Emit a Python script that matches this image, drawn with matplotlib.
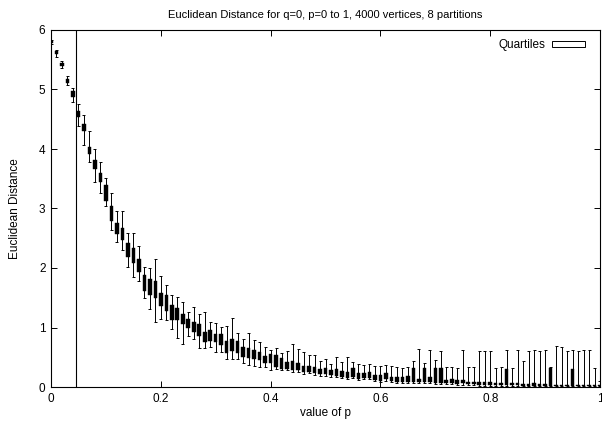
import numpy as np
import matplotlib
matplotlib.use("Agg")
import matplotlib.pyplot as plt
from matplotlib.patches import Patch

plt.rcParams['font.family'] = ['Liberation Sans', 'DejaVu Sans']

# value of p (0 to 1 in steps of 0.01)
p_values = np.linspace(0.0, 1.0, 101)

# Euclidean distance statistics per p: whisker min, first quartile, third quartile, whisker max
d_min = [5.76, 5.55, 5.36, 5.07, 4.79, 4.39, 4.06, 3.78, 3.45, 3.26,
         3.04, 2.64, 2.44, 2.30, 2.01, 1.85, 1.78, 1.50, 1.31, 1.09,
         1.14, 1.12, 0.98, 0.82, 0.72, 0.85, 0.81, 0.66, 0.66, 0.68,
         0.59, 0.59, 0.47, 0.47, 0.47, 0.40, 0.37, 0.36, 0.33, 0.33,
         0.29, 0.30, 0.29, 0.28, 0.26, 0.26, 0.22, 0.23, 0.20, 0.18,
         0.18, 0.17, 0.16, 0.15, 0.13, 0.15, 0.12, 0.13, 0.13, 0.10,
         0.09, 0.10, 0.09, 0.07, 0.07, 0.07, 0.06, 0.06, 0.06, 0.06,
         0.05, 0.05, 0.05, 0.05, 0.04, 0.04, 0.03, 0.03, 0.02, 0.02,
         0.02, 0.02, 0.02, 0.02, 0.01, 0.01, 0.01, 0.01, 0.01, 0.01,
         0.01, 0.01, 0.01, 0.01, 0.01, 0.01, 0.01, 0.01, 0.01, 0.01,
         0.01]
d_q1 = [5.78, 5.59, 5.40, 5.11, 4.87, 4.53, 4.30, 3.92, 3.66, 3.44,
        3.12, 2.79, 2.57, 2.47, 2.18, 2.09, 1.93, 1.62, 1.54, 1.49,
        1.36, 1.28, 1.13, 1.12, 1.06, 0.99, 0.93, 0.85, 0.76, 0.78,
        0.76, 0.70, 0.57, 0.60, 0.57, 0.50, 0.49, 0.47, 0.46, 0.41,
        0.40, 0.33, 0.31, 0.31, 0.29, 0.29, 0.25, 0.25, 0.24, 0.22,
        0.22, 0.20, 0.19, 0.17, 0.15, 0.16, 0.13, 0.15, 0.15, 0.12,
        0.10, 0.13, 0.10, 0.09, 0.09, 0.09, 0.08, 0.08, 0.08, 0.08,
        0.06, 0.06, 0.06, 0.07, 0.05, 0.06, 0.05, 0.05, 0.04, 0.04,
        0.04, 0.03, 0.03, 0.03, 0.03, 0.03, 0.02, 0.02, 0.02, 0.02,
        0.02, 0.02, 0.02, 0.02, 0.02, 0.02, 0.02, 0.02, 0.02, 0.02,
        0.02]
d_q3 = [5.82, 5.64, 5.44, 5.18, 4.97, 4.64, 4.42, 4.04, 3.82, 3.60,
        3.39, 3.04, 2.75, 2.68, 2.42, 2.34, 2.15, 1.88, 1.82, 1.78,
        1.58, 1.54, 1.38, 1.32, 1.23, 1.14, 1.09, 1.06, 0.93, 0.95,
        0.89, 0.89, 0.77, 0.81, 0.77, 0.67, 0.65, 0.63, 0.59, 0.52,
        0.56, 0.53, 0.48, 0.42, 0.44, 0.40, 0.36, 0.35, 0.33, 0.30,
        0.32, 0.29, 0.30, 0.27, 0.26, 0.32, 0.23, 0.23, 0.26, 0.20,
        0.20, 0.24, 0.17, 0.16, 0.17, 0.19, 0.32, 0.13, 0.32, 0.16,
        0.32, 0.32, 0.12, 0.14, 0.11, 0.12, 0.09, 0.09, 0.09, 0.09,
        0.08, 0.07, 0.07, 0.31, 0.06, 0.06, 0.05, 0.05, 0.06, 0.05,
        0.05, 0.32, 0.04, 0.04, 0.04, 0.31, 0.04, 0.04, 0.04, 0.04,
        0.04]
d_max = [5.84, 5.67, 5.48, 5.23, 5.03, 4.75, 4.57, 4.30, 4.00, 3.78,
         3.51, 3.26, 2.95, 2.95, 2.58, 2.58, 2.37, 2.02, 2.00, 2.15,
         1.86, 1.72, 1.55, 1.51, 1.43, 1.26, 1.35, 1.23, 1.26, 1.09,
         1.08, 1.01, 1.02, 1.16, 0.91, 0.81, 0.90, 0.79, 0.76, 0.67,
         0.63, 0.65, 0.57, 0.60, 0.73, 0.64, 0.58, 0.54, 0.54, 0.43,
         0.47, 0.38, 0.50, 0.42, 0.50, 0.42, 0.39, 0.37, 0.38, 0.35,
         0.36, 0.37, 0.36, 0.33, 0.32, 0.34, 0.44, 0.64, 0.40, 0.63,
         0.46, 0.61, 0.33, 0.33, 0.32, 0.62, 0.34, 0.34, 0.61, 0.61,
         0.60, 0.32, 0.33, 0.62, 0.32, 0.62, 0.43, 0.61, 0.62, 0.61,
         0.62, 0.33, 0.69, 0.67, 0.61, 0.62, 0.61, 0.62, 0.63, 0.32,
         0.10]

marker_p = 0.046

x_ticks = [0, 0.2, 0.4, 0.6, 0.8, 1]
x_tick_labels = ["0", "0.2", "0.4", "0.6", "0.8", "1"]
y_ticks = [0, 1, 2, 3, 4, 5, 6]

fig = plt.figure(figsize=(6.02, 4.23), dpi=100)
ax = fig.add_axes([51 / 602, 1 - 387 / 423, 549 / 602, 357 / 423])

d_min = np.array(d_min)
d_q1 = np.array(d_q1)
d_q3 = np.array(d_q3)
d_max = np.array(d_max)

box_w = 0.0065
cap_w = 0.0055
ax.vlines(p_values, d_min, d_max, color="black", linewidth=0.7, zorder=2)
ax.hlines(d_min, p_values - cap_w / 2, p_values + cap_w / 2, color="black", linewidth=0.7, zorder=2)
ax.hlines(d_max, p_values - cap_w / 2, p_values + cap_w / 2, color="black", linewidth=0.7, zorder=2)
ax.bar(p_values, d_q3 - d_q1, bottom=d_q1, width=box_w, color="black",
       edgecolor="black", linewidth=0.3, zorder=3)

ax.axvline(marker_p, color="black", linewidth=0.8, zorder=1)

fs = 8.5
ax.set_xlim(0, 1)
ax.set_ylim(0, 6)
ax.set_xticks(x_ticks)
ax.set_xticklabels(x_tick_labels)
ax.set_yticks(y_ticks)
ax.tick_params(direction="in", length=4, width=0.7, top=True, right=True,
               labelsize=fs, pad=4)
for s in ax.spines.values():
    s.set_linewidth(0.8)

ax.set_title("Euclidean Distance for q=0, p=0 to 1, 4000 vertices, 8 partitions",
             fontsize=8, pad=9)
ax.set_xlabel("value of p", fontsize=fs, labelpad=2)
ax.set_ylabel("Euclidean Distance", fontsize=fs, labelpad=13)

handle = Patch(facecolor="white", edgecolor="black", linewidth=0.7)
ax.legend([handle], ["Quartiles"], loc="upper right", frameon=False,
          bbox_to_anchor=(0.9805, 0.987), borderaxespad=0.0,
          markerfirst=False, fontsize=fs, handlelength=2.8, handleheight=0.35,
          handletextpad=0.5)

fig.savefig("out.png", dpi=100)
